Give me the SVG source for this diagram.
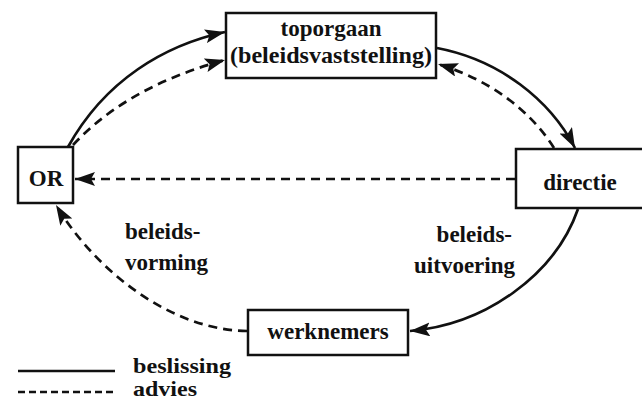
<svg xmlns="http://www.w3.org/2000/svg" width="642" height="403" viewBox="0 0 642 403">
<style>
.box{fill:#fff;stroke:#111;stroke-width:2.5}
.t{font-family:"Liberation Serif",serif;font-weight:bold;font-size:23px;fill:#111;text-anchor:middle}
.l{font-family:"Liberation Serif",serif;font-weight:bold;font-size:23px;fill:#111}
.g{font-family:"Liberation Serif",serif;font-weight:bold;font-size:21px;fill:#111}
.s{fill:none;stroke:#111;stroke-width:2.7}
.d{fill:none;stroke:#111;stroke-width:2.7;stroke-dasharray:9 6}
</style>
<defs>
<marker id="a" viewBox="0 0 20 14" refX="20" refY="7" markerWidth="20" markerHeight="14" markerUnits="userSpaceOnUse" orient="auto">
<path d="M0,0 L20,7 L0,14 L4,7 z" fill="#111"/>
</marker>
</defs>
<rect width="642" height="403" fill="#fff"/>
<g id="toporgaan">
<rect class="box" x="226" y="13" width="210" height="65"/>
<text class="t" x="331" y="36">toporgaan</text>
<text class="t" x="331" y="63" textLength="202" lengthAdjust="spacingAndGlyphs">(beleidsvaststelling)</text>
</g>
<g id="or">
<rect class="box" x="18" y="147" width="55" height="56"/>
<text class="t" x="46" y="186">OR</text>
</g>
<g id="directie">
<rect class="box" x="516" y="149" width="130" height="59"/>
<text class="t" x="580" y="190">directie</text>
</g>
<g id="werknemers">
<rect class="box" x="248" y="310" width="160" height="45"/>
<text class="t" x="328" y="339">werknemers</text>
</g>
<g id="connectors">
<path class="s" d="M68,147 C105,80 165,45 225,32" marker-end="url(#a)"/>
<path class="d" d="M73,145 C115,100 170,75 225,60" marker-end="url(#a)"/>
<path class="s" d="M437,48 C500,60 550,100 575,148" marker-end="url(#a)"/>
<path class="d" d="M554,148 C530,110 490,80 438,64" marker-end="url(#a)"/>
<path class="d" d="M515,179 L75,179" marker-end="url(#a)"/>
<path class="s" d="M578,209 C555,275 485,325 410,331" marker-end="url(#a)"/>
<path class="d" d="M247,331 C170,330 95,270 56,205" marker-end="url(#a)"/>
<line class="s" x1="18" y1="371" x2="115" y2="371"/>
<line class="d" x1="18" y1="392" x2="115" y2="392" style="stroke-dasharray:7 4"/>
</g>
<g id="labels">
<text class="l" x="125" y="239">beleids-</text>
<text class="l" x="125" y="270">vorming</text>
<text class="l" x="512" y="242" text-anchor="end">beleids-</text>
<text class="l" x="515" y="273" text-anchor="end">uitvoering</text>
<text class="g" x="133" y="373" textLength="98" lengthAdjust="spacingAndGlyphs">beslissing</text>
<text class="g" x="133" y="396" textLength="64" lengthAdjust="spacingAndGlyphs">advies</text>
</g>
</svg>
